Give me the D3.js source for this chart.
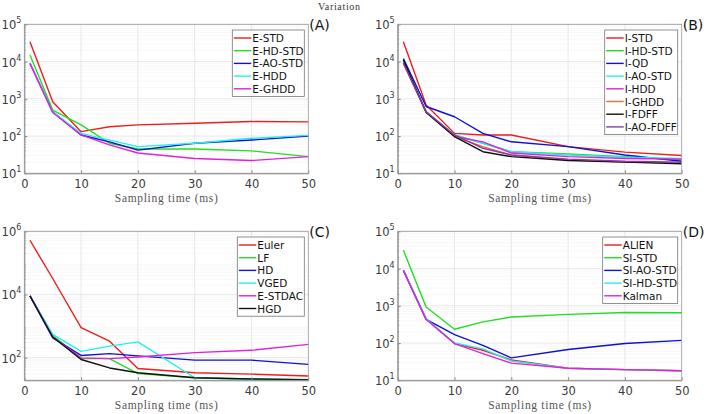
<!DOCTYPE html>
<html>
<head>
<meta charset="utf-8">
<script src="https://cdn.jsdelivr.net/npm/d3@7"></script>
<style>
  html, body { margin: 0; padding: 0; background: #fff; }
  svg { display: block; }
</style>
</head>
<body>
<svg id="chart" width="707" height="414"></svg>
<script>
// --- data ---
const samplingTimes = [1, 5, 10, 15, 20, 30, 40, 50];
const xTicks = [0, 10, 20, 30, 40, 50];

const namesA = ["E-STD", "E-HD-STD", "E-AO-STD", "E-HDD", "E-GHDD"];
const valuesA = [
  [34000, 830, 131, 178, 200, 220, 245, 240],
  [15000, 500, 200, 64, 45, 45, 40, 28],
  [9000, 450, 107, 70, 42, 64, 78, 100],
  [9000, 450, 118, 78, 52, 64, 87, 104],
  [8800, 430, 107, 58, 35, 25, 22, 28],
];

const namesB = ["I-STD", "I-HD-STD", "I-QD", "I-AO-STD", "I-HDD", "I-GHDD", "I-FDFF", "I-AO-FDFF"];
const valuesB = [
  [34000, 680, 118, 107, 107, 52, 37, 30],
  [10000, 450, 107, 64, 38, 33, 28, 23],
  [12000, 620, 330, 118, 70, 52, 31, 21],
  [10000, 450, 107, 64, 38, 31, 27, 25],
  [9000, 450, 97, 70, 35, 28, 25, 24],
  [9000, 450, 97, 52, 31, 23, 20, 19],
  [11000, 430, 97, 38, 28, 22, 20, 18],
  [9000, 450, 107, 47, 31, 24, 21, 20],
];

const namesC = ["Euler", "LF", "HD", "VGED", "E-STDAC", "HGD"];
const valuesC = [
  [520000, 32000, 890, 330, 45, 33, 30, 26],
  [9000, 510, 93, 93, 31, 23, 21, 19.5],
  [9000, 420, 117, 134, 113, 83, 83, 61],
  [9000, 540, 158, 230, 315, 23, 20, 19.5],
  [9000, 450, 98, 93, 105, 144, 170, 263],
  [9000, 450, 87, 47, 33, 23, 21, 20],
];

const namesD = ["ALIEN", "SI-STD", "SI-AO-STD", "SI-HD-STD", "Kalman"];
const valuesD = [
  [9000, 450, 97, 64, 35, 21, 19.4, 18],
  [31000, 930, 235, 370, 500, 590, 660, 650],
  [9000, 430, 168, 87, 40, 67, 97, 118],
  [9000, 450, 100, 70, 33, 21, 19.4, 18],
  [8800, 430, 97, 52, 29, 21, 19.4, 18],
];

const colorsA = ["#ee1c1c", "#22dd22", "#1010d0", "#22eeee", "#e020e0"];
const colorsB = ["#ee1c1c", "#22dd22", "#1010d0", "#22eeee", "#e020e0", "#ee6a33", "#111111", "#8a3aa8"];
const colorsC = ["#ee1c1c", "#22dd22", "#1010d0", "#22eeee", "#e020e0", "#111111"];
const colorsD = ["#ee1c1c", "#22dd22", "#1010d0", "#22eeee", "#e020e0"];

// --- layout ---
const svg = d3.select("#chart");
const SANS = "DejaVu Sans, Noto Sans, sans-serif";
const SERIF = "Liberation Serif, DejaVu Serif, serif";

svg.append("text")
  .attr("x", 339).attr("y", 10)
  .attr("text-anchor", "middle")
  .attr("font-family", SERIF)
  .attr("font-size", 10)
  .attr("textLength", 42).attr("lengthAdjust", "spacing")
  .attr("fill", "#333")
  .text("Variation");

const panels = [
  { names: namesA, values: valuesA, colors: colorsA, tag: "(A)", left: 24.3, top: 24.3, yDomain: [10, 1e5], yTicks: [1, 2, 3, 4, 5], legW: 72 },
  { names: namesB, values: valuesB, colors: colorsB, tag: "(B)", left: 397.7, top: 24.3, yDomain: [10, 1e5], yTicks: [1, 2, 3, 4, 5], legW: 73 },
  { names: namesC, values: valuesC, colors: colorsC, tag: "(C)", left: 24.3, top: 231.3, yDomain: [19.1, 1e6], yTicks: [2, 4, 6], legW: 67 },
  { names: namesD, values: valuesD, colors: colorsD, tag: "(D)", left: 397.7, top: 231.3, yDomain: [10, 1e5], yTicks: [1, 2, 3, 4, 5], legW: 75 },
];
const plotW = 284, plotH = 149;

panels.forEach((p) => {
  const g = svg.append("g").attr("transform", `translate(${p.left},${p.top})`);

  const x = d3.scaleLinear().domain([0, 50]).range([0, plotW]);
  const y = d3.scaleLog().domain(p.yDomain).range([plotH, 0]);

  // minor grid (log)
  const lo = Math.floor(Math.log10(p.yDomain[0]));
  const hi = Math.ceil(Math.log10(p.yDomain[1]));
  const minor = [];
  for (let e = lo; e < hi; e++) {
    for (let k = 2; k <= 9; k++) {
      const v = k * Math.pow(10, e);
      if (v > p.yDomain[0] && v < p.yDomain[1]) minor.push(v);
    }
  }
  g.append("g").selectAll("line").data(minor).join("line")
    .attr("x1", 0).attr("x2", plotW)
    .attr("y1", (d) => y(d)).attr("y2", (d) => y(d))
    .attr("stroke", "#e8e8e8").attr("stroke-width", 0.6)
    .attr("stroke-dasharray", "1,1");

  // major grid
  const majorY = p.yTicks.map((e) => Math.pow(10, e));
  g.append("g").selectAll("line").data(majorY).join("line")
    .attr("x1", 0).attr("x2", plotW)
    .attr("y1", (d) => y(d)).attr("y2", (d) => y(d))
    .attr("stroke", "#e0e0e0").attr("stroke-width", 0.7);
  g.append("g").selectAll("line").data(xTicks.slice(1, -1)).join("line")
    .attr("x1", (d) => x(d)).attr("x2", (d) => x(d))
    .attr("y1", 0).attr("y2", plotH)
    .attr("stroke", "#e0e0e0").attr("stroke-width", 0.7);

  // series
  const line = d3.line()
    .x((d, i) => x(samplingTimes[i]))
    .y((d) => y(d));
  p.values.forEach((vals, i) => {
    g.append("path")
      .datum(vals)
      .attr("fill", "none")
      .attr("stroke", p.colors[i])
      .attr("stroke-width", 1.4)
      .attr("stroke-linejoin", "round")
      .attr("d", line);
  });

  // axes with inward ticks
  const axB = g.append("g").attr("transform", `translate(0,${plotH})`)
    .call(d3.axisBottom(x).tickValues(xTicks).tickSizeInner(-3).tickSizeOuter(0).tickPadding(6.5));
  const axL = g.append("g")
    .call(d3.axisLeft(y).tickValues(majorY).tickSizeInner(-3).tickSizeOuter(0).tickFormat(() => ""));
  [axB, axL].forEach((ax) => {
    ax.select(".domain").attr("stroke", "#888");
    ax.selectAll(".tick line").attr("stroke", "#888");
  });
  axB.selectAll("text")
    .attr("font-family", SANS).attr("font-size", 11.5).attr("fill", "#3a3a3a");

  // minor ticks on left
  g.append("g").selectAll("line").data(minor).join("line")
    .attr("x1", 0).attr("x2", 1.5)
    .attr("y1", (d) => y(d)).attr("y2", (d) => y(d))
    .attr("stroke", "#888").attr("stroke-width", 0.6);

  // box
  g.append("rect")
    .attr("x", 0).attr("y", 0).attr("width", plotW).attr("height", plotH)
    .attr("fill", "none").attr("stroke", "#999").attr("stroke-width", 0.8);

  // y tick labels 10^n
  const yl = g.append("g").selectAll("text").data(p.yTicks).join("text")
    .attr("x", -3)
    .attr("y", (e) => y(Math.pow(10, e)) + 5)
    .attr("text-anchor", "end")
    .attr("font-family", SANS).attr("font-size", 11.5).attr("fill", "#3a3a3a");
  yl.append("tspan").text("10");
  yl.append("tspan").attr("font-size", 8).attr("dy", -6).text((e) => e);

  // x axis title
  g.append("text")
    .attr("x", plotW / 2).attr("y", plotH + 28.5)
    .attr("text-anchor", "middle")
    .attr("font-family", SERIF).attr("font-size", 11.5)
    .attr("textLength", 103).attr("lengthAdjust", "spacing")
    .attr("fill", "#555")
    .text("Sampling time (ms)");

  // panel tag
  g.append("text")
    .attr("x", plotW + 1).attr("y", 6)
    .attr("font-family", SANS).attr("font-size", 14).attr("fill", "#111")
    .text(p.tag);

  // legend
  const rowH = 12.7;
  const lx = plotW - 4 - p.legW;
  const ly = 5.7;
  const legend = g.append("g").attr("transform", `translate(${lx},${ly})`);
  legend.append("rect")
    .attr("width", p.legW).attr("height", p.names.length * rowH + 3)
    .attr("fill", "#fff").attr("stroke", "#777").attr("stroke-width", 0.8);
  const rows = legend.selectAll("g").data(p.names).join("g")
    .attr("transform", (d, i) => `translate(0,${8 + i * rowH})`);
  rows.append("line")
    .attr("x1", 1.5).attr("x2", 19)
    .attr("stroke", (d, i) => p.colors[i]).attr("stroke-width", 1.4);
  rows.append("text")
    .attr("x", 20).attr("y", 4)
    .attr("font-family", SANS).attr("font-size", 10.5).attr("fill", "#111")
    .text((d) => d);
});
</script>
</body>
</html>
